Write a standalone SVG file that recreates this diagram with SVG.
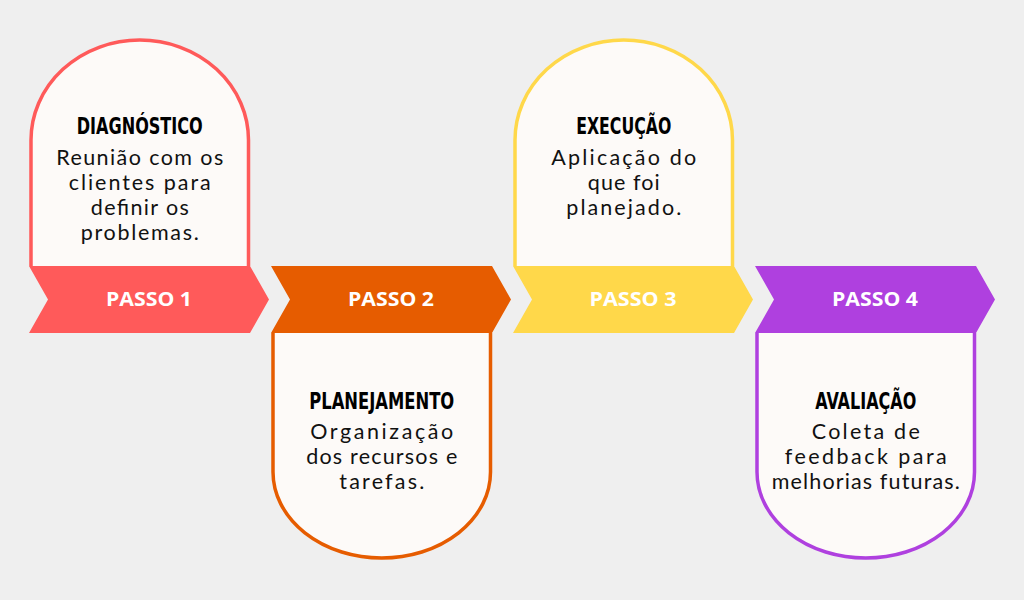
<svg xmlns="http://www.w3.org/2000/svg" width="1024" height="600" viewBox="0 0 1024 600">
<style>
.bg{fill:#EFEFEF}
.card{fill:#FDFAF8;stroke-width:3.5}
.title{font-family:"DejaVu Sans Condensed","DejaVu Sans",sans-serif;font-weight:bold;font-size:23px;fill:#000;text-anchor:middle}
.body{font-family:Lato,"Liberation Sans",sans-serif;font-size:21.5px;fill:#111;text-anchor:middle}
.step{font-family:"Open Sans","Liberation Sans",sans-serif;font-weight:bold;font-size:19px;fill:#FFFFFF;text-anchor:middle}
.red{stroke:#FF5A5A}.redf{fill:#FF5A5A}
.orange{stroke:#E65C00}.orangef{fill:#E65C00}
.yellow{stroke:#FFD84A}.yellowf{fill:#FFD84A}
.purple{stroke:#AF40DF}.purplef{fill:#AF40DF}
</style>
<rect class="bg" x="0" y="0" width="1024" height="600"/>
<g id="connectors"></g>
<g id="step1">
<path class="card red" d="M31,266 V140 A108.75,100 0 0 1 248.5,140 V266"/>
<polygon class="redf" points="29,266 250,266 269,299.5 250,333 29,333 48,299.5"/>
<text class="step" x="149" y="306" textLength="86" lengthAdjust="spacingAndGlyphs">PASSO 1</text>
<text class="title" x="139.75" y="134" textLength="126" lengthAdjust="spacingAndGlyphs">DIAGNÓSTICO</text>
<text class="body" x="139.75" y="165" textLength="167">Reunião com os</text>
<text class="body" x="139.75" y="190" textLength="142">clientes para</text>
<text class="body" x="139.75" y="215" textLength="98">definir os</text>
<text class="body" x="139.75" y="240" textLength="118">problemas.</text>
</g>
<g id="step2">
<path class="card orange" d="M273,333 V472 A108.75,86 0 0 0 490.5,472 V333"/>
<polygon class="orangef" points="271,266 492,266 511,299.5 492,333 271,333 290,299.5"/>
<text class="step" x="391" y="306" textLength="86" lengthAdjust="spacingAndGlyphs">PASSO 2</text>
<text class="title" x="381.75" y="409" textLength="145" lengthAdjust="spacingAndGlyphs">PLANEJAMENTO</text>
<text class="body" x="381.75" y="439" textLength="143">Organização</text>
<text class="body" x="381.75" y="464" textLength="151">dos recursos e</text>
<text class="body" x="381.75" y="489" textLength="85">tarefas.</text>
</g>
<g id="step3">
<path class="card yellow" d="M515,266 V140 A108.75,100 0 0 1 732.5,140 V266"/>
<polygon class="yellowf" points="513,266 734,266 753,299.5 734,333 513,333 532,299.5"/>
<text class="step" x="633" y="306" textLength="87" lengthAdjust="spacingAndGlyphs">PASSO 3</text>
<text class="title" x="623.75" y="134" textLength="95" lengthAdjust="spacingAndGlyphs">EXECUÇÃO</text>
<text class="body" x="623.75" y="165" textLength="145">Aplicação do</text>
<text class="body" x="623.75" y="190" textLength="72">que foi</text>
<text class="body" x="623.75" y="215" textLength="115">planejado.</text>
</g>
<g id="step4">
<path class="card purple" d="M757,333 V472 A108.75,86 0 0 0 974.5,472 V333"/>
<polygon class="purplef" points="755,266 976,266 995,299.5 976,333 755,333 774,299.5"/>
<text class="step" x="875" y="306" textLength="86" lengthAdjust="spacingAndGlyphs">PASSO 4</text>
<text class="title" x="865.75" y="409" textLength="101" lengthAdjust="spacingAndGlyphs">AVALIAÇÃO</text>
<text class="body" x="865.75" y="439" textLength="108">Coleta de</text>
<text class="body" x="865.75" y="464" textLength="162">feedback para</text>
<text class="body" x="865.75" y="489" textLength="188">melhorias futuras.</text>
</g>
</svg>
